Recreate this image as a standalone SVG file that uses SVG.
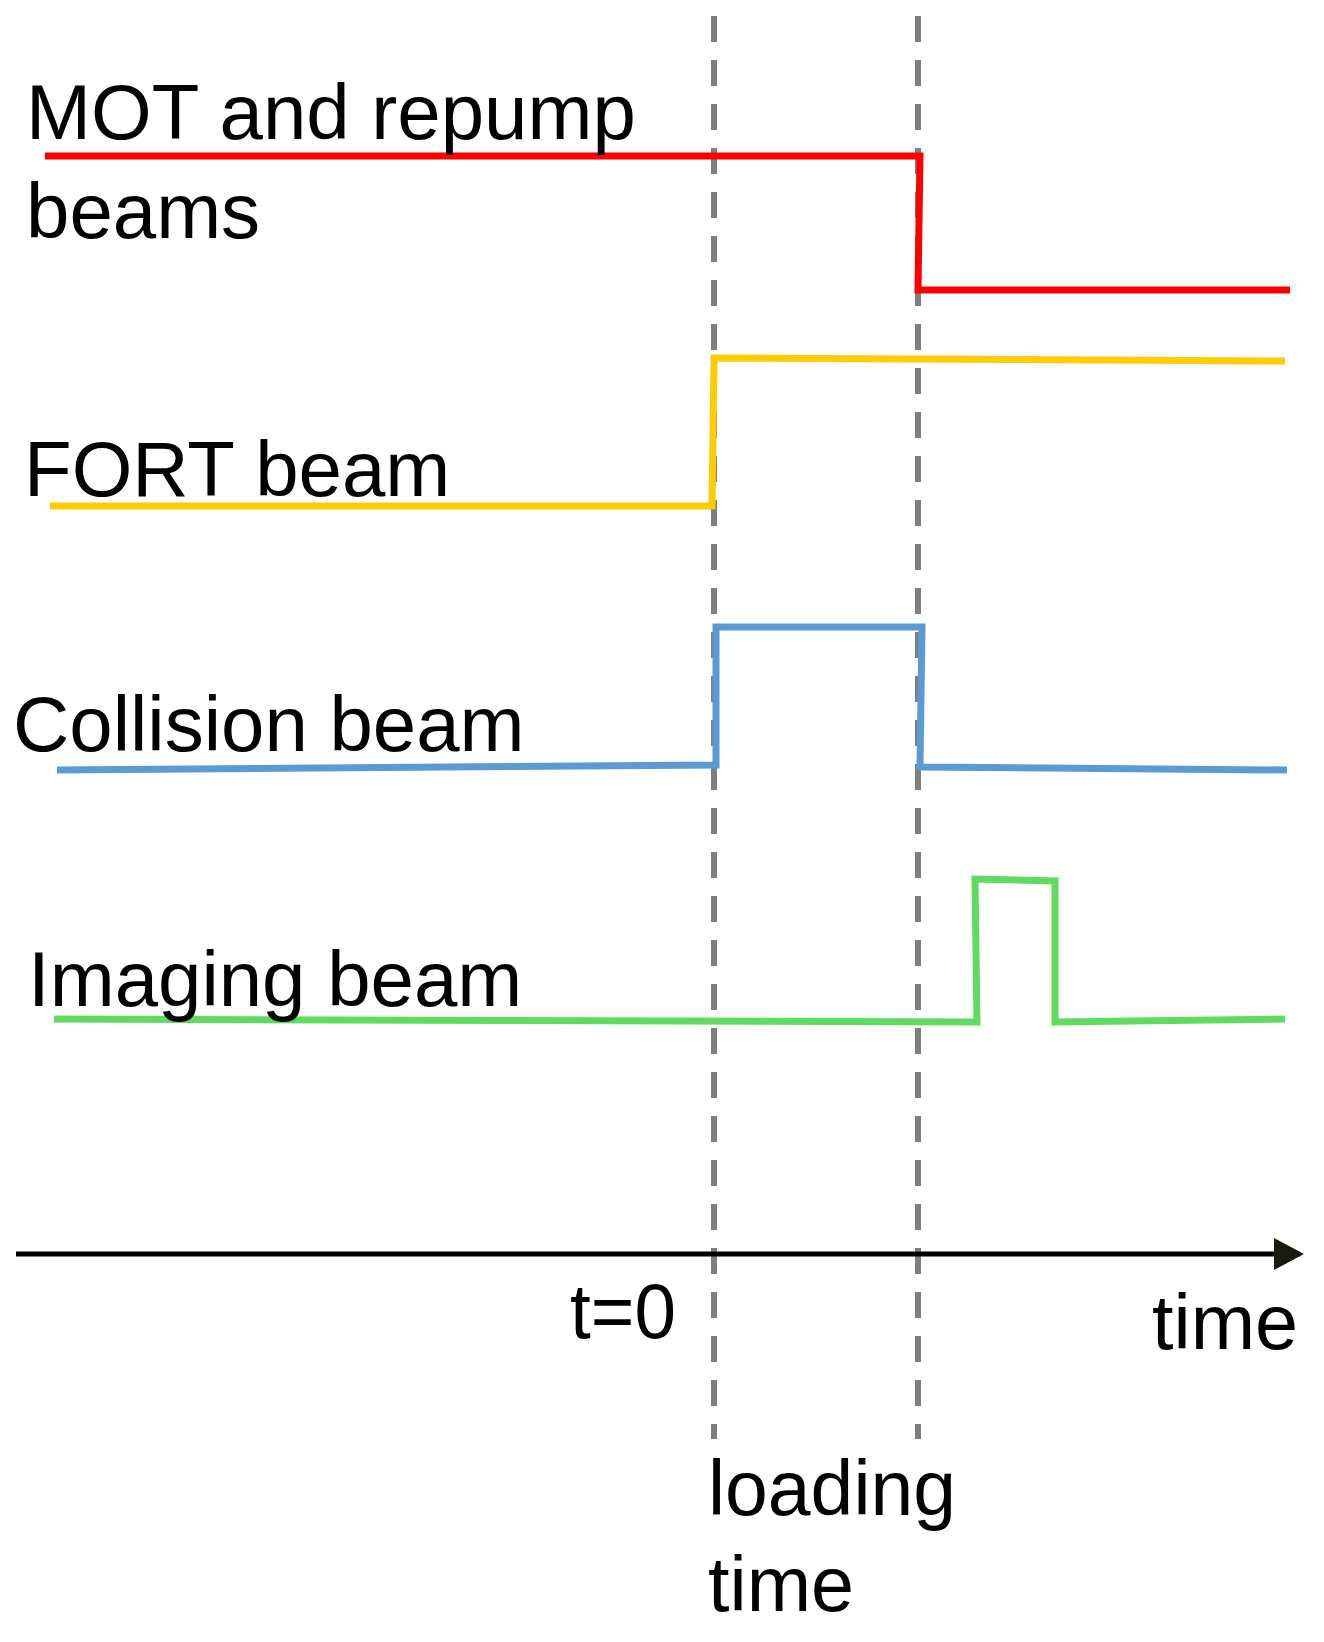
<svg xmlns="http://www.w3.org/2000/svg" width="1324" height="1642" viewBox="0 0 1324 1642">
<style>
text{font-family:"Liberation Sans",Arial,sans-serif;font-size:78px;fill:#000}
.sig{fill:none;stroke-width:7;stroke-linejoin:miter}
.dash{stroke:#7f7f7f;stroke-width:6;stroke-dasharray:26,18;fill:none}
</style>
<rect width="1324" height="1642" fill="#fff"/>
<g id="connectors">
<line class="dash" x1="714" y1="16" x2="714" y2="1439"/>
<line class="dash" x1="918" y1="16" x2="918" y2="1439"/>
<line x1="16" y1="1254" x2="1276" y2="1254" stroke="#000" stroke-width="5"/>
<path d="M1274,1238 L1304,1254 L1274,1270z" fill="#1a1a0e"/>
</g>
<g id="mot"><path class="sig" stroke="#ff0000" d="M45,156 H920 L918,290 H1290"/>
<text x="26" y="139">MOT and repump</text><text x="26" y="238">beams</text></g>
<g id="fort"><path class="sig" stroke="#ffcc00" d="M50,506 H712 L714,358 L1285,361"/>
<text x="24" y="496">FORT beam</text></g>
<g id="collision"><path class="sig" stroke="#5b9bd5" d="M57,770 L716,765 V627 H922 L920,767 L1287,770"/>
<text x="13" y="751">Collision beam</text></g>
<g id="imaging"><path class="sig" stroke="#5fdc5f" d="M54,1019 L977,1022 L975,879 L1055,881 V1022 L1285,1019"/>
<text x="28" y="1006">Imaging beam</text></g>
<g id="labels">
<text x="676" y="1338" text-anchor="end" textLength="106" lengthAdjust="spacingAndGlyphs">t=0</text>
<text x="1298" y="1349" text-anchor="end" textLength="146" lengthAdjust="spacingAndGlyphs">time</text>
<text x="708" y="1515" textLength="248" lengthAdjust="spacingAndGlyphs">loading</text>
<text x="708" y="1611" textLength="146" lengthAdjust="spacingAndGlyphs">time</text>
</g>
</svg>
